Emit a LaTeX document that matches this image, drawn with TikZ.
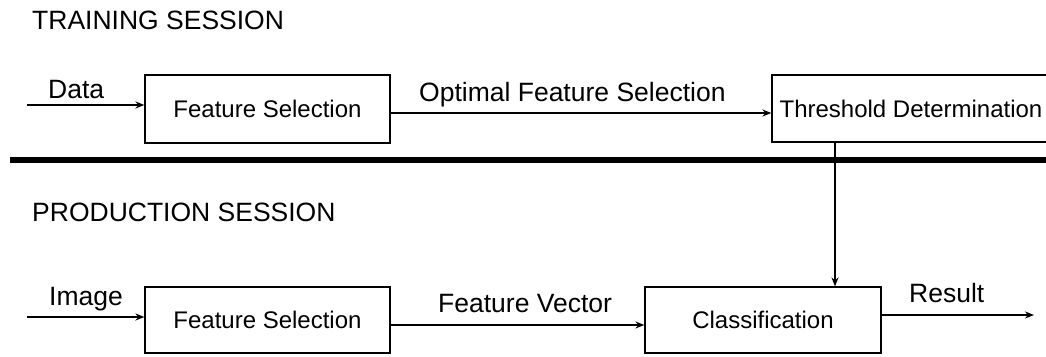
\documentclass[tikz,border=0pt]{standalone}
\usepackage{fontspec}
\setmainfont{Liberation Sans}
\usepackage{tikz}
\usetikzlibrary{arrows.meta}

\begin{document}
\begin{tikzpicture}[x=1pt, y=-1pt,
    session/.style={anchor=base west, inner sep=0pt, font=\fontsize{26.5}{30}\selectfont},
    lbl/.style={anchor=base west, inner sep=0pt, font=\fontsize{26.5}{30}\selectfont},
    block/.style={draw, line width=1.2pt, inner sep=0pt, font=\fontsize{24}{28}\selectfont},
    flow/.style={line width=1.6pt, -{Stealth[length=9pt, width=7pt]}},
    sep/.style={line width=6pt}]

                \clip (0,0) rectangle (1046,356);

                \node[session] (train) at (32,29) {TRAINING SESSION};
                \node[session] (prod) at (32,221) {PRODUCTION SESSION};

                \node[block, minimum width=245pt, minimum height=68pt] (fsel1) at (267.5,109) {Feature Selection};
                \node[block, minimum width=278pt, minimum height=67pt] (thr) at (911,108.5) {Threshold Determination};
                \node[block, minimum width=245pt, minimum height=66pt] (fsel2) at (267.5,320) {Feature Selection};
                \node[block, minimum width=236pt, minimum height=66pt] (clf) at (763,320) {Classification};

                \coordinate (datain) at (27,105);
                \coordinate (imgin) at (27,317);
                \coordinate (res) at (1034,315);
                \coordinate (sepl) at (10,160);
                \coordinate (sepr) at (1046,160);

                \draw[sep] (sepl) -- (sepr);

                \draw[flow] (datain) -- (datain -| fsel1.west);
                \node[lbl] (data) at (48,98) {Data};
                \draw[flow] ([yshift=-4pt]fsel1.east) -- ([yshift=-4pt]fsel1.east -| thr.west);
                \node[lbl] (opt) at (419,101) {Optimal Feature Selection};
                \draw[flow] ([xshift=-76pt]thr.south) -- ([xshift=-76pt]thr.south |- clf.north);

                \draw[flow] (imgin) -- (imgin -| fsel2.west);
                \node[lbl] (img) at (49,305) {Image};
                \draw[flow] ([yshift=-5pt]fsel2.east) -- ([yshift=-5pt]fsel2.east -| clf.west);
                \node[lbl] (fvec) at (438,312) {Feature Vector};
                \draw[flow] (clf.east |- res) -- (res);
                \node[lbl] (result) at (909,302) {Result};

\end{tikzpicture}
\end{document}
